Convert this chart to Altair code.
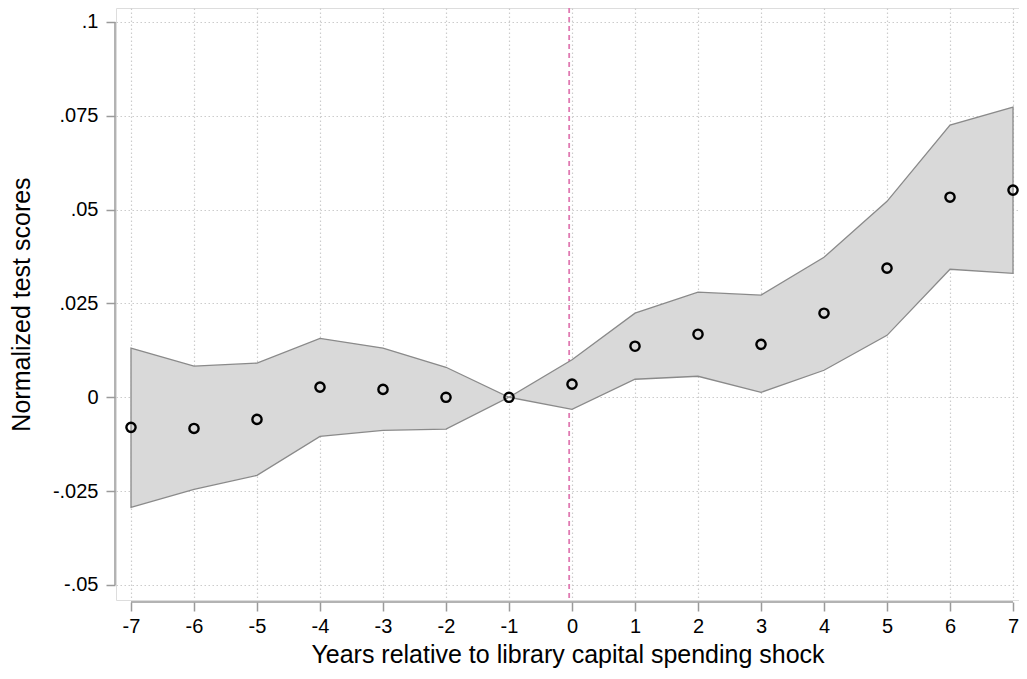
import altair as alt
import pandas as pd

# Event-time (years relative to shock)
years = [-7, -6, -5, -4, -3, -2, -1, 0, 1, 2, 3, 4, 5, 6, 7]
# Point estimates
estimate = [-0.0080, -0.0083, -0.0059, 0.0027, 0.0021, 0.0000, 0.0000, 0.0035,
            0.0136, 0.0168, 0.0141, 0.0224, 0.0344, 0.0533, 0.0552]
# Confidence band
upper = [0.0131, 0.0083, 0.0091, 0.0157, 0.0131, 0.0080, 0.0000, 0.0100,
         0.0224, 0.0280, 0.0272, 0.0373, 0.0522, 0.0725, 0.0773]
lower = [-0.0293, -0.0245, -0.0208, -0.0104, -0.0088, -0.0085, 0.0000, -0.0032,
         0.0048, 0.0056, 0.0013, 0.0072, 0.0165, 0.0341, 0.0330]

y_ticks = [-0.05, -0.025, 0, 0.025, 0.05, 0.075, 0.1]
x_ticks = years
shock_line = [-0.045]

df = pd.DataFrame({"year": years, "est": estimate, "hi": upper, "lo": lower})

W, H = 903, 592
FONT = "Liberation Sans"
GRID = "#cccccc"
AXC = "#9a9a9a"

xscale = alt.Scale(domain=[-7.238, 7.095], nice=False, zero=False)
yscale = alt.Scale(domain=[-0.054, 0.1037], nice=False, zero=False)

xaxis = alt.Axis(values=x_ticks, title="Years relative to library capital spending shock",
                 labelExpr="'' + datum.value",
                 domain=False, offset=2, tickSize=9, tickColor=AXC, tickWidth=1.5,
                 labelFontSize=20, labelFont=FONT, labelColor="#000000", labelPadding=5,
                 labelFlush=False, labelOverlap=False,
                 titleFontSize=25, titleFont=FONT, titleColor="#000000", titleFontWeight="normal",
                 titlePadding=6, grid=True, gridColor=GRID, gridDash=[1.5, 2.5], gridWidth=1.2)
yaxis = alt.Axis(values=y_ticks, title="Normalized test scores",
                 labelExpr="datum.value == 0 ? '0' : replace('' + datum.value, '0.', '.')",
                 domain=False, offset=1, tickSize=9, tickColor=AXC, tickWidth=1.5,
                 labelFontSize=20, labelFont=FONT, labelColor="#000000", labelPadding=8,
                 labelFlush=False, labelOverlap=False,
                 titleFontSize=25, titleFont=FONT, titleColor="#000000", titleFontWeight="normal",
                 titlePadding=18, grid=True, gridColor=GRID, gridDash=[1.5, 2.5], gridWidth=1.2)

base = alt.Chart(df)

vline = alt.Chart(pd.DataFrame({"x": shock_line})).mark_rule(
    color="#e07ab2", strokeDash=[5, 4], strokeWidth=1.8
).encode(x=alt.X("x:Q", scale=xscale, axis=xaxis))

band = base.mark_area(color="#d9d9d9", opacity=1, stroke="#8a8a8a", strokeWidth=1.3).encode(
    x=alt.X("year:Q", scale=xscale, axis=xaxis),
    y=alt.Y("lo:Q", scale=yscale, axis=yaxis),
    y2="hi:Q",
)

pts = base.mark_point(shape="circle", filled=False, color="#000000", size=85, strokeWidth=2.4,
                      opacity=1).encode(
    x=alt.X("year:Q", scale=xscale),
    y=alt.Y("est:Q", scale=yscale),
)

yline = alt.Chart(pd.DataFrame({"a": [y_ticks[0]], "b": [y_ticks[-1]]})).mark_rule(
    color=AXC, strokeWidth=1.5
).encode(x=alt.value(-1), y=alt.Y("a:Q", scale=yscale), y2="b:Q")

xline = alt.Chart(pd.DataFrame({"a": [x_ticks[0]], "b": [x_ticks[-1]]})).mark_rule(
    color=AXC, strokeWidth=1.5
).encode(y=alt.value(H + 2), x=alt.X("a:Q", scale=xscale), x2="b:Q")

chart = alt.layer(vline, band, pts, yline, xline).properties(
    width=W, height=H,
    autosize=alt.AutoSizeParams(type="none"),
    padding={"left": 108, "top": 0, "right": 0, "bottom": 71},
).configure_view(stroke=None).configure(background="white")

chart.save("out.html", embed_options={"renderer": "svg", "actions": False})
